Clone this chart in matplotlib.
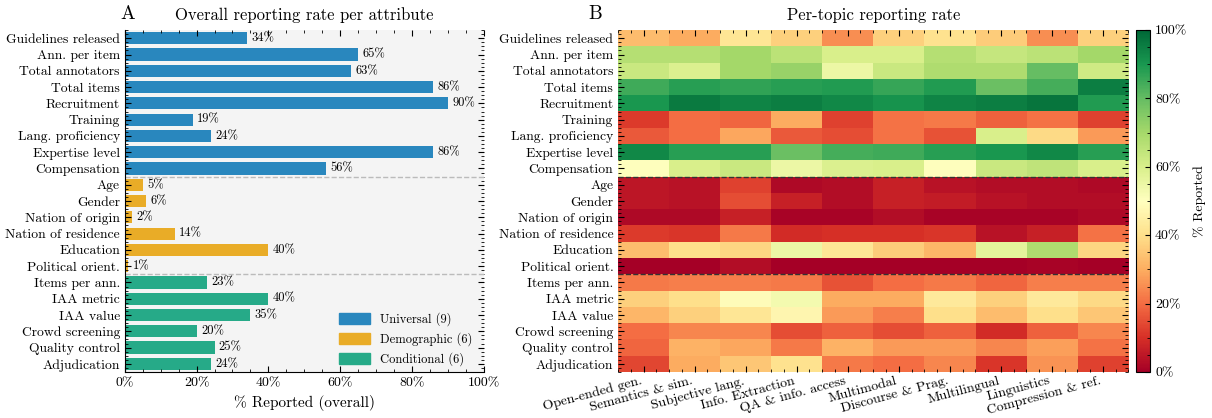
import matplotlib
matplotlib.use("Agg")
import matplotlib.pyplot as plt
from matplotlib.patches import Patch
from matplotlib.ticker import AutoMinorLocator, MultipleLocator, FuncFormatter
import numpy as np

plt.rcParams["font.family"] = "serif"
plt.rcParams["font.serif"] = ["cmr10", "DejaVu Serif"]
plt.rcParams["mathtext.fontset"] = "cm"
plt.rcParams["axes.formatter.use_mathtext"] = True
plt.rcParams["xtick.direction"] = "in"
plt.rcParams["ytick.direction"] = "in"

attributes = ["Guidelines released", "Ann. per item", "Total annotators", "Total items",
              "Recruitment", "Training", "Lang. proficiency", "Expertise level", "Compensation",
              "Age", "Gender", "Nation of origin", "Nation of residence", "Education",
              "Political orient.", "Items per ann.", "IAA metric", "IAA value",
              "Crowd screening", "Quality control", "Adjudication"]
overall = [34, 65, 63, 86, 90, 19, 24, 86, 56,
           5, 6, 2, 14, 40, 1,
           23, 40, 35, 20, 25, 24]
groups = ["Universal"] * 9 + ["Demographic"] * 6 + ["Conditional"] * 6
group_colors = {"Universal": "#2987be", "Demographic": "#e9ac27", "Conditional": "#26aa88"}

topics = ["Open-ended gen.", "Semantics & sim.", "Subjective lang.", "Info. Extraction",
          "QA & info. access", "Multimodal", "Discourse & Prag.", "Multilingual",
          "Linguistics", "Compression & ref."]
per_topic = [
    [33, 30, 42, 37, 25, 37, 41, 36, 25, 37],
    [67, 67, 70, 66, 60, 60, 67, 64, 66, 70],
    [63, 59, 70, 72, 55, 63, 68, 68, 80, 62],
    [85, 88, 87, 88, 89, 86, 89, 79, 84, 95],
    [90, 96, 94, 95, 93, 91, 94, 95, 97, 89],
    [12, 20, 19, 30, 13, 21, 22, 18, 21, 13],
    [17, 20, 29, 17, 15, 21, 16, 60, 39, 27],
    [93, 88, 88, 79, 84, 85, 88, 90, 93, 88],
    [50, 60, 63, 55, 59, 60, 50, 63, 65, 60],
    [5, 4, 13, 2, 3, 7, 4, 3, 3, 2],
    [5, 4, 15, 7, 3, 7, 6, 4, 3, 3],
    [2, 2, 7, 1, 1, 3, 1, 1, 1, 2],
    [12, 11, 22, 9, 10, 10, 11, 4, 7, 21],
    [33, 40, 38, 55, 42, 36, 32, 57, 68, 38],
    [0, 0, 3, 0, 0, 0, 0, 0, 1, 0],
    [22, 23, 23, 22, 16, 20, 22, 19, 23, 23],
    [37, 40, 49, 53, 30, 30, 43, 37, 43, 39],
    [32, 37, 42, 47, 27, 23, 40, 33, 40, 35],
    [20, 24, 24, 15, 18, 15, 18, 9, 18, 24],
    [19, 31, 29, 22, 31, 27, 27, 24, 28, 21],
    [14, 30, 35, 41, 22, 20, 24, 11, 26, 13],
]

fig = plt.figure(figsize=(12.12, 4.18), dpi=100)
ax1 = fig.add_axes([0.103, 0.110, 0.296, 0.818])
ax2 = fig.add_axes([0.510, 0.110, 0.421, 0.818])
cax = fig.add_axes([0.9375, 0.110, 0.0115, 0.818])

pct = FuncFormatter(lambda v, p: f"{v:.0f}%")

# panel A
ypos = np.arange(len(attributes))
ax1.set_facecolor("#f4f4f4")
ax1.barh(ypos, overall, height=0.75, color=[group_colors[g] for g in groups])
for y, v in zip(ypos, overall):
    ax1.text(v + 1.2, y, f"{v}%", va="center", ha="left", fontsize=9)
for b in [8.5, 14.5]:
    ax1.axhline(b, color="#bbbbbb", ls="--", lw=1)
ax1.set_yticks(ypos)
ax1.set_yticklabels(attributes, fontsize=9.8)
ax1.set_ylim(len(attributes) - 0.5, -0.5)
ax1.set_xlim(0, 100)
ax1.xaxis.set_major_locator(MultipleLocator(20))
ax1.xaxis.set_minor_locator(MultipleLocator(5))
ax1.xaxis.set_major_formatter(pct)
ax1.yaxis.set_minor_locator(AutoMinorLocator(4))
ax1.tick_params(axis="both", which="both", top=True, right=True)
ax1.tick_params(axis="x", labelsize=10)
ax1.tick_params(which="major", length=4)
ax1.tick_params(which="minor", length=2)
ax1.spines["top"].set_visible(False)
ax1.spines["right"].set_visible(False)
ax1.set_xlabel("% Reported (overall)", fontsize=11)
ax1.set_title("Overall reporting rate per attribute", fontsize=12, pad=7)
ax1.text(0.008, 1.047, "A", transform=ax1.transAxes, fontsize=14, ha="center", va="center")
handles = [Patch(color=group_colors[g], label=f"{g} ({groups.count(g)})")
           for g in ["Universal", "Demographic", "Conditional"]]
ax1.legend(handles=handles, loc="lower right", frameon=False, fontsize=9,
           handlelength=2.5, handleheight=1.0, bbox_to_anchor=(1.0, -0.015))

# panel B
im = ax2.imshow(np.array(per_topic), cmap="RdYlGn", vmin=0, vmax=100, aspect="auto",
                interpolation="nearest")
for b in [8.5, 14.5]:
    ax2.axhline(b, color="#333333", ls="--", lw=1)
ax2.set_yticks(np.arange(len(attributes)))
ax2.set_yticklabels(attributes, fontsize=9.8)
ax2.set_xticks(np.arange(len(topics)))
ax2.set_xticklabels(topics, rotation=15, ha="right", fontsize=10)
ax2.xaxis.set_minor_locator(AutoMinorLocator(4))
ax2.yaxis.set_minor_locator(AutoMinorLocator(4))
ax2.tick_params(axis="both", which="both", top=True, right=True)
ax2.tick_params(axis="x", pad=2)
ax2.tick_params(which="major", length=4)
ax2.tick_params(which="minor", length=2)
for s in ax2.spines.values():
    s.set_visible(False)
ax2.set_title("Per-topic reporting rate", fontsize=12, pad=7)
ax2.text(-0.045, 1.047, "B", transform=ax2.transAxes, fontsize=14, ha="center", va="center")

cb = fig.colorbar(im, cax=cax)
cb.set_ticks([0, 20, 40, 60, 80, 100])
cb.ax.yaxis.set_major_formatter(pct)
cb.ax.yaxis.set_minor_locator(MultipleLocator(5))
cb.ax.tick_params(which="both", direction="in", labelsize=10)
cb.set_label("% Reported", fontsize=10)

plt.savefig("out.png", dpi=100)
